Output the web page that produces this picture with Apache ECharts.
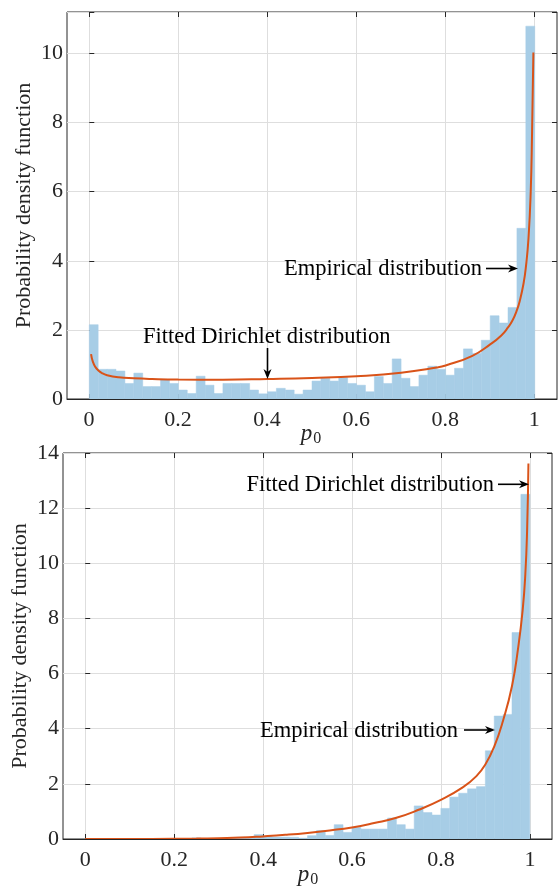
<!DOCTYPE html>
<html>
<head>
<meta charset="utf-8">
<title>Dirichlet fit of p0</title>
<script src="https://cdn.jsdelivr.net/npm/echarts@6/dist/echarts.min.js"></script>
<style>
  html, body { margin: 0; padding: 0; background: #fff; }
  #chart { width: 558px; height: 886px; }
</style>
</head>
<body>
<div id="chart"></div>
<script>
// histogram bins: 50 bins of width 0.02 on [0, 1]
const binWidth = 0.02;
const topBins = [
  2.15, 0.86, 0.86, 0.81, 0.45, 0.75, 0.36, 0.36, 0.55, 0.45,
  0.26, 0.16, 0.66, 0.40, 0.16, 0.45, 0.45, 0.45, 0.26, 0.15,
  0.21, 0.31, 0.26, 0.14, 0.26, 0.52, 0.60, 0.52, 0.62, 0.45,
  0.40, 0.21, 0.65, 0.45, 1.16, 0.60, 0.36, 0.69, 0.95, 0.86,
  0.69, 0.89, 1.45, 1.32, 1.70, 2.41, 2.20, 2.65, 4.94, 10.79
];
const bottomBins = [
  0, 0, 0, 0, 0, 0, 0, 0, 0, 0,
  0, 0, 0.04, 0, 0.02, 0, 0.02, 0.06, 0.04, 0.16,
  0.10, 0.07, 0.07, 0.06, 0.03, 0.12, 0.31, 0.13, 0.52, 0.24,
  0.42, 0.36, 0.36, 0.36, 0.76, 0.52, 0.36, 1.20, 0.96, 0.87,
  1.11, 1.52, 1.66, 1.82, 1.90, 3.20, 4.46, 4.52, 7.49, 12.5
];

// fitted Dirichlet (marginal) density
const topCurve = [
  [0.004, 1.30], [0.008, 1.08], [0.0135, 0.93], [0.02, 0.83], [0.0285, 0.75],
  [0.04, 0.69], [0.066, 0.63], [0.1, 0.60], [0.141, 0.58], [0.2, 0.565],
  [0.3, 0.56], [0.4, 0.58], [0.5, 0.61], [0.6, 0.66], [0.7, 0.76],
  [0.78, 0.91], [0.8, 0.97], [0.86, 1.25], [0.9, 1.58], [0.925, 1.84],
  [0.94, 2.07], [0.95, 2.27], [0.96, 2.57], [0.967, 2.87], [0.975, 3.35],
  [0.98, 3.8], [0.986, 4.65], [0.991, 6.0], [0.994, 7.7], [0.997, 10.03]
];
const bottomCurve = [
  [0.0, 0.0], [0.1, 0.001], [0.2, 0.008], [0.25, 0.015], [0.3, 0.03],
  [0.35, 0.05], [0.4, 0.095], [0.45, 0.15], [0.5, 0.22], [0.55, 0.31],
  [0.6, 0.42], [0.65, 0.58], [0.7, 0.77], [0.75, 1.06], [0.8, 1.42],
  [0.85, 1.88], [0.88, 2.28], [0.9, 2.7], [0.92, 3.35], [0.94, 4.3],
  [0.96, 5.55], [0.974, 6.95], [0.984, 8.3], [0.99, 9.6], [0.994, 11.2],
  [0.997, 13.62]
];

const xLimits = [-0.05, 1.05];
const topYMax = 11.2;
const bottomYMax = 14;

const font = 'Liberation Serif';
const ink = '#262626';
const gridColor = '#dedede';
const barColor = '#a7cde6';
const lineColor = '#d95319';

const chart = echarts.init(document.getElementById('chart'));

// [x0, x1, height] per bin
const toBars = bins => bins.map((h, i) => [i * binWidth, (i + 1) * binWidth, h]);

const renderBar = (params, api) => {
  const a = api.coord([api.value(0), api.value(2)]);
  const b = api.coord([api.value(1), 0]);
  return {
    type: 'rect',
    shape: { x: a[0], y: a[1], width: b[0] - a[0], height: b[1] - a[1] },
    style: { fill: barColor, stroke: barColor, lineWidth: 0.5 }
  };
};

const tickLabel = { fontFamily: font, fontSize: 22, color: ink };

// data axis of a frame: only draws the bottom line (over the bars)
const dataX = g => ({
  type: 'value', gridIndex: g, min: xLimits[0], max: xLimits[1], z: 5,
  axisLine: { show: true, onZero: false, lineStyle: { color: ink, width: 1 } },
  axisTick: { show: false }, axisLabel: { show: false }, splitLine: { show: false }
});
// labelled axis on the helper grid spanning [0, 1]
const labelX = (g, pos) => ({
  type: 'value', gridIndex: g, position: pos, min: 0, max: 1, interval: 0.2,
  axisLine: { show: false },
  axisTick: { show: true, inside: true, length: 5, lineStyle: { color: ink } },
  axisLabel: pos === 'bottom' ? { ...tickLabel, margin: 10 } : { show: false },
  splitLine: { show: pos === 'bottom', lineStyle: { color: gridColor, width: 1 } }
});
const frameY = (g, pos, max) => ({
  type: 'value', gridIndex: g, position: pos, min: 0, max: max, interval: 2,
  axisLine: { show: false },
  axisTick: { show: true, inside: true, length: 5, lineStyle: { color: ink } },
  axisLabel: pos === 'left'
    ? { ...tickLabel, margin: 4, formatter: v => (Math.abs(v % 2) < 1e-9 ? String(v) : '') }
    : { show: false },
  splitLine: { show: pos === 'left', lineStyle: { color: gridColor, width: 1 } }
});
const hiddenY = (g, max) => ({ type: 'value', gridIndex: g, min: 0, max: max, show: false });

// arrow as a shaft plus a notched head
const arrow = (x1, y1, x2, y2) => {
  const ang = Math.atan2(y2 - y1, x2 - x1);
  const L = 10, W = 4, N = 7;
  const c = Math.cos(ang), s = Math.sin(ang);
  const pt = (along, side) => [x2 - along * c - side * s, y2 - along * s + side * c];
  return [
    { type: 'line', z: 10, shape: { x1, y1, x2: pt(N, 0)[0], y2: pt(N, 0)[1] },
      style: { stroke: '#000', lineWidth: 1.6 } },
    { type: 'polygon', z: 10, shape: { points: [[x2, y2], pt(L, W), pt(N, 0), pt(L, -W)] },
      style: { fill: '#000' } }
  ];
};
const note = (text, x, y, align) => ({
  type: 'text', z: 10, x, y,
  style: { text, fontFamily: font, fontSize: 22.5, fill: '#000', align, verticalAlign: 'middle' }
});
const yName = (x, y) => ({
  type: 'text', z: 10, x, y, rotation: Math.PI / 2,
  style: { text: 'Probability density function', fontFamily: font, fontSize: 22, fill: ink,
           align: 'center', verticalAlign: 'middle' }
});
const xName = (x, y) => ({
  type: 'text', z: 10, x, y,
  style: {
    text: '{p|p}{s|0}', align: 'center', verticalAlign: 'middle',
    rich: {
      p: { fontFamily: font, fontSize: 23, fontStyle: 'italic', fill: ink },
      s: { fontFamily: font, fontSize: 16, fill: ink, padding: [10, 0, 0, 1] }
    }
  }
});

chart.setOption({
  animation: false,
  grid: [
    { left: 67, top: 12, width: 490, height: 387, show: true, borderColor: ink, borderWidth: 1 },
    { left: 89, top: 12, width: 445.3, height: 387 },
    { left: 63, top: 453, width: 489, height: 386, show: true, borderColor: ink, borderWidth: 1 },
    { left: 85.3, top: 453, width: 444.7, height: 386 }
  ],
  xAxis: [
    dataX(0), labelX(1, 'bottom'), labelX(1, 'top'),
    dataX(2), labelX(3, 'bottom'), labelX(3, 'top')
  ],
  yAxis: [
    frameY(0, 'left', topYMax), frameY(0, 'right', topYMax), hiddenY(1, topYMax),
    frameY(2, 'left', bottomYMax), frameY(2, 'right', bottomYMax), hiddenY(3, bottomYMax)
  ],
  series: [
    { type: 'custom', xAxisIndex: 0, yAxisIndex: 0, renderItem: renderBar,
      encode: { x: [0, 1], y: 2 }, data: toBars(topBins), z: 2 },
    { type: 'line', xAxisIndex: 0, yAxisIndex: 0, data: topCurve, showSymbol: false,
      smooth: 0.5, lineStyle: { color: lineColor, width: 2 }, z: 3 },
    { type: 'custom', xAxisIndex: 3, yAxisIndex: 3, renderItem: renderBar,
      encode: { x: [0, 1], y: 2 }, data: toBars(bottomBins), z: 2 },
    { type: 'line', xAxisIndex: 3, yAxisIndex: 3, data: bottomCurve, showSymbol: false,
      smooth: 0.5, lineStyle: { color: lineColor, width: 2 }, z: 3 }
  ],
  graphic: [
    yName(24.5, 205.5), xName(311, 434),
    note('Empirical distribution', 482, 269, 'right'), ...arrow(486, 268.5, 518, 268.5),
    note('Fitted Dirichlet distribution', 143, 337, 'left'), ...arrow(267.5, 348, 267.5, 379),
    yName(20.5, 646), xName(308, 875),
    note('Fitted Dirichlet distribution', 494, 485, 'right'), ...arrow(498, 484.3, 529, 484.3),
    note('Empirical distribution', 458, 731, 'right'), ...arrow(464, 730, 495, 730)
  ]
});
</script>
</body>
</html>
